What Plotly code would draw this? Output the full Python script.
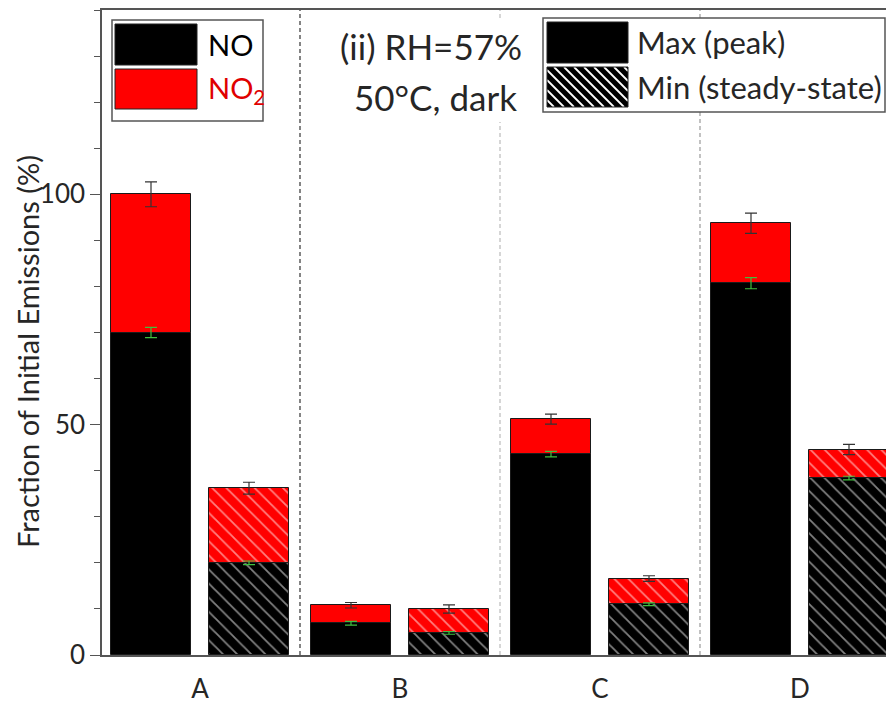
import plotly.graph_objects as go

# ---------------- data ----------------
categories = ["A", "B", "C", "D"]
no_max = [70.0, 6.9, 43.6, 80.7]          # NO, max (peak)
total_max = [100.0, 10.8, 51.2, 93.7]     # NO + NO2, max (peak)
no_min = [20.0, 4.8, 11.0, 38.4]          # NO, min (steady-state)
total_min = [36.2, 10.0, 16.6, 44.6]      # NO + NO2, min (steady-state)
err_total_max = [2.7, 0.6, 1.1, 2.2]
err_no_max = [1.1, 0.4, 0.6, 1.2]
err_total_min = [1.3, 0.9, 0.6, 1.1]
err_no_min = [0.4, 0.3, 0.3, 0.4]
y_ticks = [0, 50, 100]

no2_max = [t - n for t, n in zip(total_max, no_max)]
no2_min = [t - n for t, n in zip(total_min, no_min)]

idx = list(range(len(categories)))
off = 0.245
x_max = [i - off for i in idx]
x_min = [i + off for i in idx]

FONT = "Lato"
TXT = "#262626"
BAR_W = 0.4
OUT = dict(color="#1a1a1a", width=1)

fig = go.Figure()
fig.add_bar(x=x_max, y=no_max, width=BAR_W, marker=dict(color="black", line=OUT), name="NO max")
fig.add_bar(x=x_max, y=no2_max, width=BAR_W, marker=dict(color="#ff0000", line=OUT), name="NO2 max")
pat = dict(shape="\\", fgcolor="white", size=10, solidity=0.18, fillmode="overlay")
fig.add_bar(x=x_min, y=no_min, width=BAR_W,
            marker=dict(color="black", line=OUT, pattern=pat), name="NO min")
fig.add_bar(x=x_min, y=no2_min, width=BAR_W,
            marker=dict(color="#ff0000", line=OUT, pattern=pat), name="NO2 min")

# error bars
def eb(xs, ys, errs, color):
    fig.add_scatter(x=xs, y=ys, mode="markers", marker=dict(size=1, opacity=0),
                    error_y=dict(type="data", array=errs, visible=True, color=color,
                                 thickness=1.2, width=6),
                    hoverinfo="skip", showlegend=False)

eb(x_max, no_max, err_no_max, "#3fbf3f")
eb(x_min, no_min, err_no_min, "#3fbf3f")
eb(x_max, total_max, err_total_max, "#333333")
eb(x_min, total_min, err_total_min, "#333333")

# ---------------- geometry (page pixels; page body has an 8px margin) ----------------
BODY = 8
FIG_W, FIG_H = 894 - BODY, 704 - BODY
L, R, T, B = 102, 894, 10, 655          # plot area in page pixels
def px(p):
    return (p - L) / (R - L)
def py(p):
    return (B - p) / (B - T)

shapes = []
div_colors = ["#333333", "#bbbbbb", "#999999"]
for k, c in enumerate(div_colors):
    shapes.append(dict(type="line", xref="x", yref="paper", x0=k + 0.5, x1=k + 0.5,
                       y0=0, y1=1, line=dict(color=c, width=1.2, dash="4px,3px"),
                       layer="below"))

# white box behind centre text
shapes.append(dict(type="rect", xref="paper", yref="paper", x0=px(333), x1=px(530),
                   y0=py(122), y1=py(20), fillcolor="white", line=dict(width=0), layer="above"))

# left legend
shapes.append(dict(type="rect", xref="paper", yref="paper", x0=px(112), x1=px(263),
                   y0=py(121), y1=py(20), fillcolor="white",
                   line=dict(color="#555555", width=1.5), layer="above"))
shapes.append(dict(type="rect", xref="paper", yref="paper", x0=px(115), x1=px(197),
                   y0=py(65), y1=py(24), fillcolor="black",
                   line=dict(color="#222222", width=1), layer="above"))
shapes.append(dict(type="rect", xref="paper", yref="paper", x0=px(115), x1=px(197),
                   y0=py(109), y1=py(69), fillcolor="#ff0000",
                   line=dict(color="#222222", width=1), layer="above"))

# right legend
shapes.append(dict(type="rect", xref="paper", yref="paper", x0=px(543), x1=px(885),
                   y0=py(112), y1=py(18), fillcolor="white",
                   line=dict(color="#555555", width=1.5), layer="above"))
shapes.append(dict(type="rect", xref="paper", yref="paper", x0=px(547), x1=px(628),
                   y0=py(63), y1=py(22), fillcolor="black",
                   line=dict(color="#222222", width=1), layer="above"))
hx0, hx1, hy0, hy1 = 547, 628, 67, 107
shapes.append(dict(type="rect", xref="paper", yref="paper", x0=px(hx0), x1=px(hx1),
                   y0=py(hy1), y1=py(hy0), fillcolor="black",
                   line=dict(width=0), layer="above"))
c = hy0 - hx1 + 4
while c < hy1 - hx0:
    xa = max(hx0, hy0 - c)
    xb = min(hx1, hy1 - c)
    if xb > xa + 1:
        shapes.append(dict(type="line", xref="paper", yref="paper",
                           x0=px(xa), y0=py(xa + c), x1=px(xb), y1=py(xb + c),
                           line=dict(color="white", width=1.8), layer="above"))
    c += 10
shapes.append(dict(type="rect", xref="paper", yref="paper", x0=px(hx0), x1=px(hx1),
                   y0=py(hy1), y1=py(hy0), fillcolor="rgba(0,0,0,0)",
                   line=dict(color="#222222", width=1), layer="above"))

def ann(text, x, y, size, color=TXT, xanchor="left", **kw):
    return dict(text=text, x=px(x), y=py(y), xref="paper", yref="paper", xanchor=xanchor,
                yanchor="middle", showarrow=False,
                font=dict(family=FONT, size=size, color=color), **kw)

annotations = [
    ann("NO", 206, 45, 29, "black"),
    ann("NO<sub>2</sub>", 206, 89, 29, "#e00000"),
    ann("Max (peak)", 635, 42, 31),
    ann("Min (steady-state)", 635, 87, 31),
    ann("(ii) RH=57%", 431, 46, 35, xanchor="center"),
    ann("50°C, dark", 435, 97, 35, xanchor="center"),
    ann("Fraction of Initial Emissions (%)", 27, 352, 29, xanchor="center", textangle=-90),
]

fig.update_layout(
    width=FIG_W, height=FIG_H,
    margin=dict(l=L - BODY, r=(BODY + FIG_W) - R, t=T - BODY, b=(BODY + FIG_H) - B),
    barmode="relative",
    bargap=0,
    showlegend=False,
    plot_bgcolor="white", paper_bgcolor="white",
    shapes=shapes, annotations=annotations,
    font=dict(family=FONT, color=TXT),
)
fig.update_xaxes(range=[-0.49, 3.47], tickvals=idx, ticktext=categories,
                 tickfont=dict(family=FONT, size=26, color=TXT), ticks="",
                 ticklabelstandoff=10, automargin=False,
                 showline=True, linecolor="#555555", linewidth=1.5, mirror=True,
                 showgrid=False, zeroline=False)
fig.update_yaxes(range=[0, 140], tickvals=y_ticks, ticks="outside", ticklen=10,
                 tickcolor="#555555", tickwidth=1.2, automargin=False,
                 minor=dict(dtick=10, ticks="outside", ticklen=6, tickcolor="#555555", tickwidth=1.2),
                 tickfont=dict(family=FONT, size=26, color=TXT),
                 showline=True, linecolor="#555555", linewidth=1.5,
                 showgrid=False, zeroline=False)

fig.write_html("out.html")
